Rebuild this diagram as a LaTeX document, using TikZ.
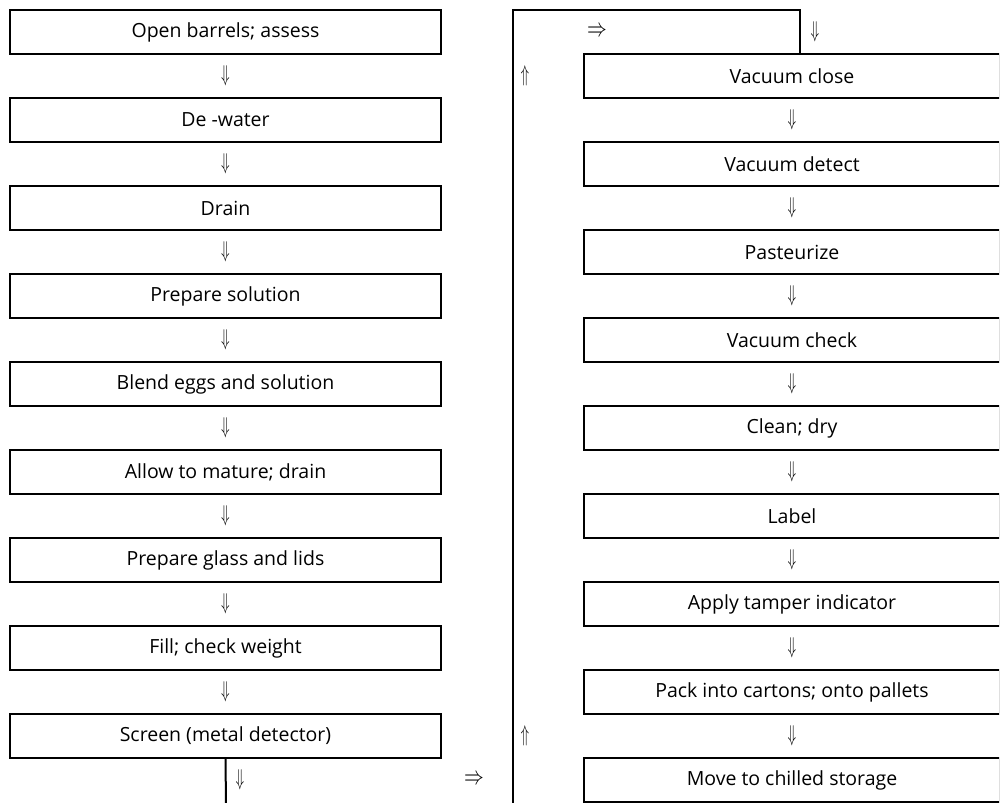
\documentclass[tikz,border=0pt]{standalone}
\usepackage{fontspec}
\setmainfont{Open Sans}
\usepackage{graphicx}
\tikzset{
  box/.style={draw, line width=2pt, minimum height=44pt, inner sep=0pt, font=\fontsize{19.5}{22}\selectfont},
  lbox/.style={box, minimum width=431pt},
  rbox/.style={box, minimum width=416pt},
  arr/.style={inner sep=0pt, font=\fontsize{20}{20}\selectfont},
  wire/.style={line width=2pt}
}
\newcommand{\dnarr}{\scalebox{0.68}[1.1]{$\Downarrow$}}
\newcommand{\uparr}{\scalebox{0.68}[1.1]{$\Uparrow$}}
\newcommand{\rtarr}{\scalebox{0.95}[1.25]{$\Rightarrow$}}
\begin{document}
\begin{tikzpicture}[x=1pt,y=-1pt]
\useasboundingbox (0,0) rectangle (1005,803);
\clip (0,0) rectangle (999,803);
% left column
\node[lbox] (l1) at (225.5,32) {Open barrels; assess};
\node[lbox] (l2) at (225.5,120) {De -water};
\node[lbox] (l3) at (225.5,208) {Drain};
\node[lbox] (l4) at (225.5,296) {Prepare solution};
\node[lbox] (l5) at (225.5,384) {Blend eggs and solution};
\node[lbox] (l6) at (225.5,472) {Allow to mature; drain};
\node[lbox] (l7) at (225.5,560) {Prepare glass and lids};
\node[lbox] (l8) at (225.5,648) {Fill; check weight};
\node[lbox] (l9) at (225.5,736) {Screen (metal detector)};
\foreach \i/\y in {1/76,2/164,3/252,4/340,5/428,6/516,7/604,8/692}
  \node[arr] (la\i) at (225.5,\y) {\dnarr};
\node[arr] (la9) at (240,780) {\dnarr};
\coordinate (lbot) at (226,804);
\draw[wire] (l9.south) -- (lbot);
\node[arr] (mid) at (474,780) {\rtarr};
% right column frame
\coordinate (fb) at (513,804);
\coordinate (ft) at (513,10);
\coordinate (fr) at (800,10);
\node[arr] (ra0) at (597,32) {\rtarr};
\node[arr] (rd0) at (815,32) {\dnarr};
\node[arr] (up1) at (525,76) {\uparr};
\node[arr] (up2) at (525,736) {\uparr};
% right boxes
\node[rbox] (r1) at (792,76) {Vacuum close};
\node[rbox] (r2) at (792,164) {Vacuum detect};
\node[rbox] (r3) at (792,252) {Pasteurize};
\node[rbox] (r4) at (792,340) {Vacuum check};
\node[rbox] (r5) at (792,428) {Clean; dry};
\node[rbox] (r6) at (792,516) {Label};
\node[rbox] (r7) at (792,604) {Apply tamper indicator};
\node[rbox] (r8) at (792,692) {Pack into cartons; onto pallets};
\node[rbox] (r9) at (792,780) {Move to chilled storage};
\foreach \i/\y in {1/120,2/208,3/296,4/384,5/472,6/560,7/648,8/736}
  \node[arr] (ra\i) at (792,\y) {\dnarr};
\draw[wire] (fb) -- (ft) -- (fr) -- (fr |- r1.north);
\end{tikzpicture}
\end{document}
